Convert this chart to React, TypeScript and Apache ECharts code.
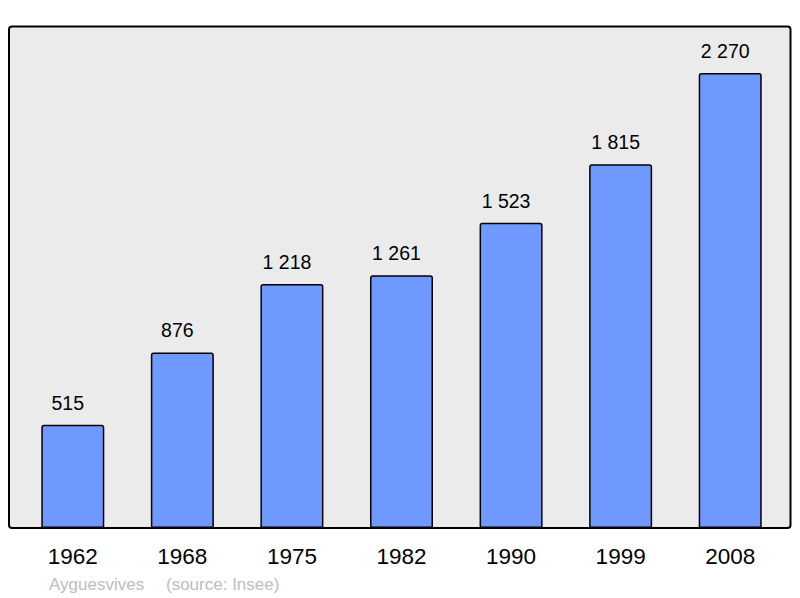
import React, { useEffect, useRef } from "react";
import * as echarts from "echarts";

const years = ["1962", "1968", "1975", "1982", "1990", "1999", "2008"];
const population = [515, 876, 1218, 1261, 1523, 1815, 2270];
const footerName = "Ayguesvives";
const footerSource = "(source: Insee)";

const fmt = (v: number) => {
  const s = String(v);
  return s.length > 3 ? s.slice(0, s.length - 3) + " " + s.slice(-3) : s;
};

const FONT = "Liberation Sans, Arial, sans-serif";

export default function App() {
  const ref = useRef<HTMLDivElement>(null);
  useEffect(() => {
    if (!ref.current) return;
    const chart = echarts.init(ref.current, undefined, { renderer: "svg" });
    chart.setOption({
      animation: false,
      textStyle: { fontFamily: FONT },
      graphic: [
        {
          type: "rect",
          shape: { x: 9, y: 26.5, width: 781.5, height: 501.5, r: 3 },
          style: { fill: "#ebebeb", stroke: "#000", lineWidth: 2 },
          z: -10,
          silent: true,
        },
        {
          type: "text",
          x: 49,
          y: 584,
          style: { text: footerName, fill: "#bdbdbd", font: "17px " + FONT, verticalAlign: "middle" },
        },
        {
          type: "text",
          x: 166,
          y: 584,
          style: { text: footerSource, fill: "#bdbdbd", font: "17px " + FONT, verticalAlign: "middle" },
        },
      ],
      grid: { left: 18, right: 15, top: 27, bottom: 70 },
      xAxis: {
        type: "category",
        data: years,
        axisLine: { show: false },
        axisTick: { show: false },
        axisLabel: { color: "#000", fontSize: 22.5, margin: 17, fontFamily: FONT },
      },
      yAxis: {
        type: "value",
        min: 0,
        max: 2500,
        show: false,
        splitLine: { show: false },
      },
      series: [
        {
          type: "bar",
          data: population,
          barWidth: 63,
          itemStyle: {
            color: "#7099ff",
            borderColor: "#000",
            borderWidth: 1.5,
            borderRadius: [2, 2, 0, 0],
          },
          label: {
            show: true,
            position: "top",
            distance: 12,
            offset: [-5, 0],
            color: "#000",
            fontSize: 19.5,
            fontFamily: FONT,
            formatter: (p: any) => fmt(p.value),
          },
        },
      ],
    });
    return () => chart.dispose();
  }, []);
  return <div ref={ref} style={{ width: 800, height: 598, position: "absolute", left: 0, top: 0 }} />;
}
